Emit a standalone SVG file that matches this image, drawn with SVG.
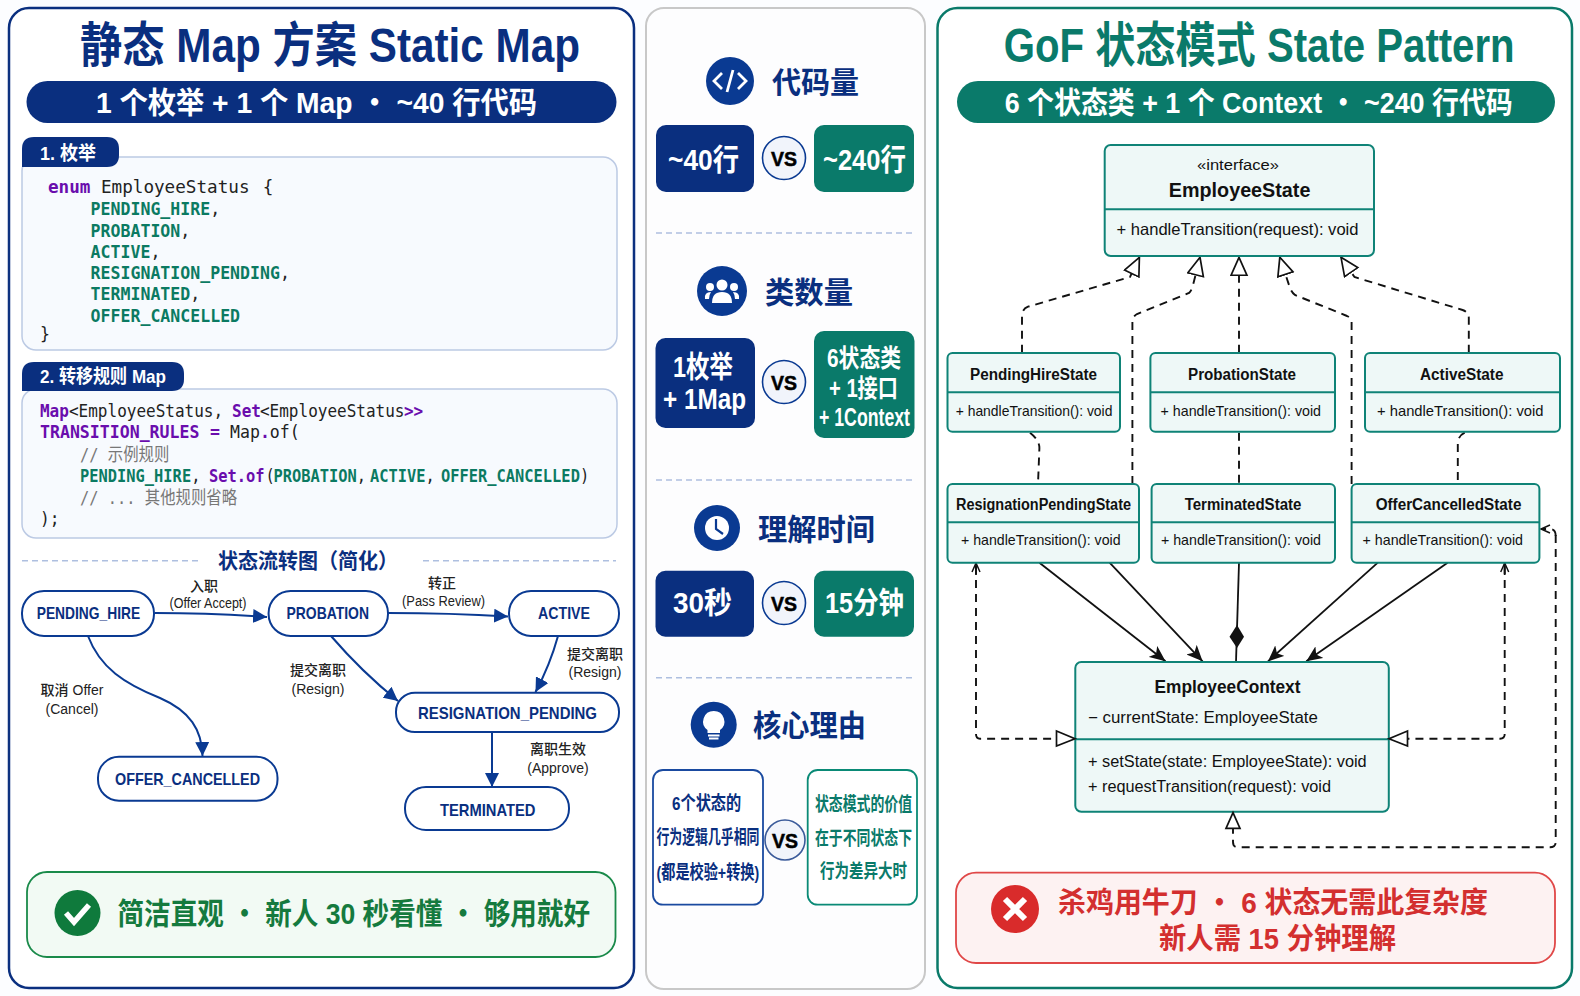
<svg xmlns="http://www.w3.org/2000/svg" width="1580" height="996" viewBox="0 0 1580 996">
<style>
text{font-family:"Liberation Sans","Noto Sans CJK SC",sans-serif}
.b{font-weight:700}
.navy{fill:#0a2f7f}.teal{fill:#0a7a6a}.w{fill:#fff}
.title{font-size:48px;font-weight:700}
.band{font-size:30px;font-weight:700;fill:#fff}
.tab{font-size:19px;font-weight:700;fill:#fff}
.codebox{fill:#f7fafe;stroke:#bccae4;stroke-width:1.5}
.mono{font-family:"DejaVu Sans Mono","Noto Sans CJK SC",monospace;font-size:18px;fill:#222}
.mono .k{fill:#6a0dad;font-weight:700}.mono .g{fill:#0b7a62;font-weight:700}.mono .c{fill:#777}
.dash{stroke:#aebfe0;stroke-width:1.5;stroke-dasharray:6 4;fill:none}
.st{fill:#fff;stroke:#0a3a92;stroke-width:2}
.stt{font-size:17px;font-weight:700;fill:#0a2f7f;text-anchor:start}
.lab{font-size:14px;fill:#222;text-anchor:middle}
.zh{font-weight:500}
.fl{fill:none;stroke:#0a3a92;stroke-width:2;marker-end:url(#navyArrow)}
.big{font-size:30px;font-weight:700;fill:#0a2f7f}
.val{font-size:30px;font-weight:700;fill:#fff}
.vsc{fill:#f1f4fb;stroke:#0a3a92;stroke-width:1.6}
.vst{font-size:20px;font-weight:700;fill:#000;stroke:#000;stroke-width:.5}
.rs{font-size:19px;font-weight:700}
.cl{fill:#eef8f7;stroke:#0f8377;stroke-width:2}
.dv{stroke:#0f8377;stroke-width:2}
.ct{font-size:16px;font-weight:700;fill:#111}
.cm{font-size:15px;fill:#111}
.dsh{fill:none;stroke:#111;stroke-width:1.9;stroke-dasharray:8 6}
.sol{fill:none;stroke:#111;stroke-width:1.8}
</style>
<defs>
<marker id="navyArrow" markerUnits="userSpaceOnUse" markerWidth="16" markerHeight="14" refX="14" refY="7" orient="auto"><path d="M0 0L14 7L0 14Z" fill="#0a3a92"/></marker>
<marker id="blkArrow" markerUnits="userSpaceOnUse" markerWidth="18" markerHeight="14" refX="16" refY="7" orient="auto"><path d="M0 0L16 7L0 14L4 7Z" fill="#111"/></marker>
<marker id="hollow" markerUnits="userSpaceOnUse" markerWidth="22" markerHeight="20" refX="19" refY="9" orient="auto"><path d="M1 1L19 9L1 17Z" fill="#fff" stroke="#111" stroke-width="1.7"/></marker>
<marker id="open" markerUnits="userSpaceOnUse" markerWidth="12" markerHeight="12" refX="10" refY="5" orient="auto"><path d="M1 1L10 5L1 9" fill="none" stroke="#111" stroke-width="1.5"/></marker>
</defs>
<rect width="1580" height="996" fill="#fcfdff"/>

<g id="panel-left">
<rect x="9" y="8" width="625" height="980" rx="20" fill="#fff" stroke="#0a2f7f" stroke-width="2.5"/>
<text class="title navy" x="80" y="62" textLength="500" lengthAdjust="spacingAndGlyphs">静态 Map 方案 Static Map</text>
<rect x="26.5" y="81" width="590" height="42" rx="21" fill="#0a2f7f"/>
<text class="band" x="96" y="113" textLength="441" lengthAdjust="spacingAndGlyphs">1 个枚举 + 1 个 Map ・ ~40 行代码</text>
</g>

<g id="code-enum">
<rect class="codebox" x="22" y="157" width="595" height="193" rx="14"/>
<path d="M22 167V149Q22 137 34 137H107Q119 137 119 149V155Q119 167 107 167Z" fill="#0a2f7f"/>
<text class="tab" x="40" y="160" textLength="56" lengthAdjust="spacingAndGlyphs">1. 枚举</text>
<text class="mono" y="193" transform="scale(.98,1)"><tspan class="k" x="49">enum</tspan><tspan x="103">EmployeeStatus</tspan><tspan x="268">{</tspan></text>
<g transform="translate(0 .8) scale(.92,1)">
<text class="mono" y="214.5"><tspan class="g" x="98.5">PENDING_HIRE</tspan><tspan>,</tspan></text>
<text class="mono" y="236"><tspan class="g" x="98.5">PROBATION</tspan><tspan>,</tspan></text>
<text class="mono" y="257"><tspan class="g" x="98.5">ACTIVE</tspan><tspan>,</tspan></text>
<text class="mono" y="278.5"><tspan class="g" x="98.5">RESIGNATION_PENDING</tspan><tspan>,</tspan></text>
<text class="mono" y="299.5"><tspan class="g" x="98.5">TERMINATED</tspan><tspan>,</tspan></text>
<text class="mono" y="321"><tspan class="g" x="98.5">OFFER_CANCELLED</tspan></text>
<text class="mono" x="43.5" y="339">}</text>
</g>
</g>

<g id="code-map">
<rect class="codebox" x="22" y="389" width="595" height="149" rx="14"/>
<path d="M22 391V374Q22 362 34 362H172Q184 362 184 374V379Q184 391 172 391Z" fill="#0a2f7f"/>
<text class="tab" x="40" y="383" textLength="126" lengthAdjust="spacingAndGlyphs">2. 转移规则 Map</text>
<text class="mono" y="417.3" transform="scale(.89,1)"><tspan class="k" x="44.9">Map</tspan><tspan x="77.5">&lt;EmployeeStatus,</tspan><tspan class="k" x="260.7">Set</tspan><tspan x="292.1">&lt;EmployeeStatus</tspan><tspan class="k" x="453.9">&gt;&gt;</tspan></text>
<text class="mono" y="438.5" transform="scale(.92,1)"><tspan class="k" x="43.5">TRANSITION_RULES</tspan><tspan class="k" x="228.3">=</tspan><tspan x="250">Map</tspan><tspan class="k">.</tspan><tspan>of(</tspan></text>
<g transform="translate(0 .8) scale(.855,1)">
<text class="mono" y="460"><tspan class="c" x="93.6">// 示例规则</tspan></text>
<text class="mono" y="481.5"><tspan class="g" x="93.6">PENDING_HIRE</tspan><tspan>,</tspan><tspan class="k" x="244.4">Set.of</tspan><tspan x="310.5">(</tspan><tspan class="g" x="319.9">PROBATION</tspan><tspan>,</tspan><tspan class="g" x="432.7">ACTIVE</tspan><tspan>,</tspan><tspan class="g" x="515.8">OFFER_CANCELLED</tspan><tspan>)</tspan></text>
<text class="mono" y="503"><tspan class="c" x="93.6">// ... 其他规则省略</tspan></text>
</g>
<text class="mono" x="44.4" y="525.5" transform="scale(.9,1)">);</text>
</g>

<g id="flow-heading">
<path class="dash" d="M22 560.7H198M423 560.7H616"/>
<text class="navy b" x="218" y="568" font-size="21" textLength="180" lengthAdjust="spacingAndGlyphs">状态流转图（简化）</text>
</g>

<g id="flow-connectors">
<path class="fl" d="M155 613Q210 613 267 617"/>
<path class="fl" d="M388 613Q450 613 508 616.5"/>
<path class="fl" d="M88 636C100 668 125 684 160 698C190 711 202 730 202.5 756"/>
<path class="fl" d="M331 636Q362 672 398 701"/>
<path class="fl" d="M558 636Q550 665 535.5 692"/>
<path class="fl" d="M492 732V787"/>
<text class="lab zh" x="204" y="591">入职</text><text class="lab" x="208" y="608" textLength="77" lengthAdjust="spacingAndGlyphs">(Offer Accept)</text>
<text class="lab zh" x="442" y="588">转正</text><text class="lab" x="443.5" y="606" textLength="83" lengthAdjust="spacingAndGlyphs">(Pass Review)</text>
<text class="lab zh" x="595" y="659">提交离职</text><text class="lab" x="595" y="677">(Resign)</text>
<text class="lab zh" x="318" y="675">提交离职</text><text class="lab" x="318" y="694">(Resign)</text>
<text class="lab zh" x="72" y="695">取消 Offer</text><text class="lab" x="72" y="714">(Cancel)</text>
<text class="lab zh" x="558" y="754">离职生效</text><text class="lab" x="558" y="773">(Approve)</text>
</g>
<g id="PENDING_HIRE"><rect class="st" x="22" y="591" width="132" height="45" rx="22"/><text class="stt" x="36.7" y="619" textLength="103.5" lengthAdjust="spacingAndGlyphs">PENDING_HIRE</text></g>
<g id="PROBATION"><rect class="st" x="268.6" y="591" width="119.4" height="45" rx="22"/><text class="stt" x="286.5" y="619" textLength="82.5" lengthAdjust="spacingAndGlyphs">PROBATION</text></g>
<g id="ACTIVE"><rect class="st" x="509" y="591" width="110" height="45" rx="22"/><text class="stt" x="538" y="619" textLength="52" lengthAdjust="spacingAndGlyphs">ACTIVE</text></g>
<g id="RESIGNATION_PENDING"><rect class="st" x="396" y="692.7" width="223" height="39.3" rx="19"/><text class="stt" x="418" y="719" textLength="179" lengthAdjust="spacingAndGlyphs">RESIGNATION_PENDING</text></g>
<g id="OFFER_CANCELLED"><rect class="st" x="98" y="756.7" width="179.5" height="44" rx="21"/><text class="stt" x="115" y="785" textLength="145" lengthAdjust="spacingAndGlyphs">OFFER_CANCELLED</text></g>
<g id="TERMINATED"><rect class="st" x="405" y="787" width="164" height="43" rx="21"/><text class="stt" x="440" y="815.5" textLength="95.5" lengthAdjust="spacingAndGlyphs">TERMINATED</text></g>

<g id="summary-left">
<rect x="27" y="872" width="588.5" height="85" rx="20" fill="#f2faf4" stroke="#1a8a4a" stroke-width="1.8"/>
<circle cx="77.5" cy="913" r="23" fill="#0f7a3c"/>
<path d="M66 913L74 922L89 905" fill="none" stroke="#fff" stroke-width="5.5"/>
<text x="117.5" y="924" font-size="30" font-weight="700" fill="#157a3e" textLength="472.5" lengthAdjust="spacingAndGlyphs">简洁直观 ・ 新人 30 秒看懂 ・ 够用就好</text>
</g>

<g id="panel-middle">
<rect x="646" y="8" width="279" height="981" rx="18" fill="#fdfdfe" stroke="#c8c8c8" stroke-width="2"/>
<path class="dash" d="M656 233H914M656 480H914M656 677.7H914"/>
</g>

<g id="metric-code">
<circle cx="730" cy="81" r="24" fill="#0a3a92"/>
<path d="M722 73L714 81L722 89M738 73L746 81L738 89M733 70L727 92" fill="none" stroke="#fff" stroke-width="2.8"/>
<text class="big" x="772" y="92.5" textLength="87" lengthAdjust="spacingAndGlyphs">代码量</text>
<rect x="656" y="125" width="98" height="67" rx="10" fill="#0a2f7f"/>
<text class="val" x="668" y="170" textLength="71" lengthAdjust="spacingAndGlyphs">~40行</text>
<circle class="vsc" cx="784" cy="158" r="21.5"/>
<text class="vst" x="771" y="166" textLength="26" lengthAdjust="spacingAndGlyphs">VS</text>
<rect x="814" y="125" width="100" height="67" rx="10" fill="#0a7a6a"/>
<text class="val" x="823" y="170" textLength="83" lengthAdjust="spacingAndGlyphs">~240行</text>
</g>

<g id="metric-classes">
<circle cx="722" cy="291" r="25" fill="#0a3a92"/>
<g fill="#fff"><circle cx="722" cy="285" r="5.5"/><circle cx="710" cy="287" r="4"/><circle cx="734" cy="287" r="4"/><path d="M712 303Q712 292 722 292Q732 292 732 303Z"/><path d="M705 299Q704 292 711 292Q709 295 709 299ZM739 299Q740 292 733 292Q735 295 735 299Z"/></g>
<text class="big" x="765" y="303" textLength="88" lengthAdjust="spacingAndGlyphs">类数量</text>
<rect x="655.5" y="338" width="99.5" height="90" rx="10" fill="#0a2f7f"/>
<text class="val" x="673" y="377" textLength="60" lengthAdjust="spacingAndGlyphs">1枚举</text>
<text class="val" x="663" y="409" textLength="83" lengthAdjust="spacingAndGlyphs">+ 1Map</text>
<circle class="vsc" cx="784" cy="382" r="21.5"/>
<text class="vst" x="771" y="390" textLength="26" lengthAdjust="spacingAndGlyphs">VS</text>
<rect x="814" y="331" width="100.5" height="107" rx="10" fill="#0a7a6a"/>
<text class="val" style="font-size:25px" x="827" y="367" textLength="74" lengthAdjust="spacingAndGlyphs">6状态类</text>
<text class="val" style="font-size:25px" x="829" y="397" textLength="69" lengthAdjust="spacingAndGlyphs">+ 1接口</text>
<text class="val" style="font-size:25px" x="819" y="426" textLength="91" lengthAdjust="spacingAndGlyphs">+ 1Context</text>
</g>

<g id="metric-time">
<circle cx="717" cy="528" r="23" fill="#0a3a92"/>
<circle cx="717" cy="528" r="12" fill="#fff"/>
<path d="M716 519V529L723 534" fill="none" stroke="#0a3a92" stroke-width="2.2"/>
<text class="big" x="758" y="539.5" textLength="117" lengthAdjust="spacingAndGlyphs">理解时间</text>
<rect x="655.5" y="570.7" width="98.5" height="66" rx="10" fill="#0a2f7f"/>
<text class="val" x="673" y="613" textLength="59" lengthAdjust="spacingAndGlyphs">30秒</text>
<circle class="vsc" cx="784" cy="603" r="21.5"/>
<text class="vst" x="771" y="611" textLength="26" lengthAdjust="spacingAndGlyphs">VS</text>
<rect x="814" y="570.7" width="100" height="66" rx="10" fill="#0a7a6a"/>
<text class="val" x="825" y="613" textLength="79" lengthAdjust="spacingAndGlyphs">15分钟</text>
</g>

<g id="metric-reason">
<circle cx="713.7" cy="724.7" r="23" fill="#0a3a92"/>
<path d="M713.7 711A10.5 10.5 0 0 1 720 730V733H707.5V730A10.5 10.5 0 0 1 713.7 711Z" fill="#fff"/>
<path d="M708 735.5H719.5M709 738.5H718.5" stroke="#fff" stroke-width="1.8"/>
<text class="big" x="753" y="736" textLength="113" lengthAdjust="spacingAndGlyphs">核心理由</text>
<rect x="653" y="770" width="110" height="134.7" rx="10" fill="#fff" stroke="#1a4aa0" stroke-width="1.8"/>
<text class="rs navy" transform="translate(672 810) scale(.8 1)">6个状态的</text>
<text class="rs navy" transform="translate(656.5 844) scale(.678 1)">行为逻辑几乎相同</text>
<text class="rs navy" transform="translate(656.5 879) scale(.746 1)">(都是校验+转换)</text>
<circle class="vsc" style="stroke:#3a5a9a" cx="785" cy="840" r="20"/>
<text class="vst" x="772" y="848" textLength="26" lengthAdjust="spacingAndGlyphs">VS</text>
<rect x="807.7" y="770" width="109.3" height="134.7" rx="10" fill="#fff" stroke="#0a8a76" stroke-width="1.8"/>
<text class="rs teal" transform="translate(815 811) scale(.73 1)">状态模式的价值</text>
<text class="rs teal" transform="translate(815 845) scale(.73 1)">在于不同状态下</text>
<text class="rs teal" transform="translate(820 878) scale(.763 1)">行为差异大时</text>
</g>

<g id="panel-right">
<rect x="937.5" y="8" width="634.5" height="980" rx="20" fill="#fff" stroke="#0a7a6a" stroke-width="2.5"/>
<text class="title teal" transform="translate(1003.7 62) scale(.8366 1)">GoF 状态模式 State Pattern</text>
<rect x="957" y="81" width="598" height="42" rx="21" fill="#0a7a6a"/>
<text class="band" x="1004.7" y="113" textLength="508" lengthAdjust="spacingAndGlyphs">6 个状态类 + 1 个 Context ・ ~240 行代码</text>
</g>

<g id="uml-connectors">
<path class="dsh" marker-end="url(#hollow)" d="M1022 352.7V316Q1022 309 1028 306.7L1130 277L1139.4 257.3"/>
<path class="dsh" marker-end="url(#hollow)" d="M1132.4 484V322Q1132.4 316.7 1137 314L1189 293Q1192 290 1193 285L1200 257.3"/>
<path class="dsh" marker-end="url(#hollow)" d="M1239 352.7V257.3"/>
<path class="dsh" marker-end="url(#hollow)" d="M1351.6 484V322Q1351.6 318 1347 316L1295 295Q1291 292 1289 285L1279.8 257.3"/>
<path class="dsh" marker-end="url(#hollow)" d="M1468.8 352.7V318Q1468.8 312 1462.6 310L1354.5 277L1341 257.3"/>
<path class="dsh" d="M1030 432.7Q1039.4 440 1039.4 448L1038 484"/>
<path class="dsh" d="M1239 432.7V484"/>
<path class="dsh" d="M1464.7 432.7Q1457.8 436 1457.8 444V484"/>
<path class="sol" marker-end="url(#blkArrow)" d="M1039.4 562.7L1165.5 661.3"/>
<path class="sol" marker-end="url(#blkArrow)" d="M1109.6 562.7L1202.6 661.3"/>
<path class="sol" d="M1239 562.7L1236 662"/>
<path d="M1237 625L1244 636.7L1237 648L1229.5 636.7Z" fill="#111"/>
<path class="sol" marker-end="url(#blkArrow)" d="M1377.8 562.7L1268 661.3"/>
<path class="sol" marker-end="url(#blkArrow)" d="M1447.6 562.7L1306.3 661.3"/>
<path class="dsh" d="M976 566V734Q976 738.7 980 738.7H1056"/>
<path class="sol" marker-end="url(#open)" d="M976 575L976 563"/>
<path class="dsh" d="M1504.7 566V734Q1504.7 738.7 1500 738.7H1408"/>
<path class="sol" marker-end="url(#open)" d="M1504.7 575V563"/>
<path class="dsh" d="M1555.7 535V842Q1555.7 847.3 1550 847.3H1238Q1233 847.3 1233 842V828"/>
<path class="dsh" marker-end="url(#open)" d="M1555.7 536Q1555.7 529 1550 529H1541"/>
</g>

<g id="uml-EmployeeState">
<rect class="cl" x="1104.7" y="145" width="269.3" height="111" rx="6"/>
<path class="dv" d="M1104.7 209.3H1374"/>
<text x="1197" y="170" font-size="15.5" fill="#111" textLength="82" lengthAdjust="spacingAndGlyphs">«interface»</text>
<text x="1168.8" y="196.7" font-size="20" font-weight="700" fill="#111" textLength="141.6" lengthAdjust="spacingAndGlyphs">EmployeeState</text>
<text x="1116.5" y="235" font-size="16.5" fill="#111" textLength="242" lengthAdjust="spacingAndGlyphs">+ handleTransition(request): void</text>
</g>
<g id="uml-PendingHireState"><rect class="cl" x="947.5" y="353" width="172.5" height="78.7" rx="5"/><path class="dv" d="M947.5 392.3H1120"/><text class="ct" x="970" y="380" textLength="127" lengthAdjust="spacingAndGlyphs">PendingHireState</text><text class="cm" x="955.7" y="415.7" textLength="156.7" lengthAdjust="spacingAndGlyphs">+ handleTransition(): void</text></g>
<g id="uml-ProbationState"><rect class="cl" x="1150.4" y="353" width="184.6" height="78.7" rx="5"/><path class="dv" d="M1150.4 392.3H1335"/><text class="ct" x="1188" y="380" textLength="108" lengthAdjust="spacingAndGlyphs">ProbationState</text><text class="cm" x="1160.6" y="415.7" textLength="160.4" lengthAdjust="spacingAndGlyphs">+ handleTransition(): void</text></g>
<g id="uml-ActiveState"><rect class="cl" x="1365" y="353" width="195" height="78.7" rx="5"/><path class="dv" d="M1365 392.3H1560"/><text class="ct" x="1420" y="380" textLength="83.5" lengthAdjust="spacingAndGlyphs">ActiveState</text><text class="cm" x="1377" y="415.7" textLength="166.5" lengthAdjust="spacingAndGlyphs">+ handleTransition(): void</text></g>
<g id="uml-ResignationPendingState"><rect class="cl" x="947.5" y="484" width="191.5" height="78.7" rx="5"/><path class="dv" d="M947.5 522.3H1139"/><text class="ct" x="956" y="510" textLength="175" lengthAdjust="spacingAndGlyphs">ResignationPendingState</text><text class="cm" x="961" y="545" textLength="159.6" lengthAdjust="spacingAndGlyphs">+ handleTransition(): void</text></g>
<g id="uml-TerminatedState"><rect class="cl" x="1151.6" y="484" width="183.4" height="78.7" rx="5"/><path class="dv" d="M1151.6 522.3H1335"/><text class="ct" x="1184.7" y="510" textLength="116.7" lengthAdjust="spacingAndGlyphs">TerminatedState</text><text class="cm" x="1161" y="545" textLength="160" lengthAdjust="spacingAndGlyphs">+ handleTransition(): void</text></g>
<g id="uml-OfferCancelledState"><rect class="cl" x="1351.6" y="484" width="187.8" height="78.7" rx="5"/><path class="dv" d="M1351.6 522.3H1539.4"/><text class="ct" x="1375.7" y="510" textLength="145.7" lengthAdjust="spacingAndGlyphs">OfferCancelledState</text><text class="cm" x="1362.6" y="545" textLength="160.4" lengthAdjust="spacingAndGlyphs">+ handleTransition(): void</text></g>
<g id="uml-EmployeeContext">
<rect class="cl" x="1075.3" y="662" width="313.5" height="149.7" rx="6"/>
<path class="dv" d="M1075.3 739.3H1388.8"/>
<text x="1154.5" y="692.7" font-size="18.5" font-weight="700" fill="#111" textLength="146" lengthAdjust="spacingAndGlyphs">EmployeeContext</text>
<text class="cm" style="font-size:16px" x="1088" y="722.7" textLength="229.8" lengthAdjust="spacingAndGlyphs">− currentState: EmployeeState</text>
<text class="cm" style="font-size:16px" x="1088" y="767" textLength="278.7" lengthAdjust="spacingAndGlyphs">+ setState(state: EmployeeState): void</text>
<text class="cm" style="font-size:16px" x="1088" y="791.7" textLength="243" lengthAdjust="spacingAndGlyphs">+ requestTransition(request): void</text>
</g>
<g id="context-triangles">
<path d="M1056.5 731L1075 738.7L1056.5 746Z" fill="#fff" stroke="#111" stroke-width="1.7"/>
<path d="M1407.5 731L1389 738.7L1407.5 746Z" fill="#fff" stroke="#111" stroke-width="1.7"/>
<path d="M1226 828.3L1233 812.7L1240 828.3Z" fill="#fff" stroke="#111" stroke-width="1.7"/>
</g>

<g id="summary-right">
<rect x="956" y="872.7" width="599" height="90.3" rx="20" fill="#fdf2f2" stroke="#e04848" stroke-width="1.8"/>
<circle cx="1015" cy="909" r="24" fill="#d92b2b"/>
<path d="M1005 899L1025 919M1025 899L1005 919" stroke="#fff" stroke-width="6"/>
<text x="1058" y="913" font-size="29" font-weight="700" fill="#d32f2f" textLength="430" lengthAdjust="spacingAndGlyphs">杀鸡用牛刀 ・ 6 状态无需此复杂度</text>
<text x="1159" y="949" font-size="29" font-weight="700" fill="#d32f2f" textLength="237" lengthAdjust="spacingAndGlyphs">新人需 15 分钟理解</text>
</g>
</svg>
